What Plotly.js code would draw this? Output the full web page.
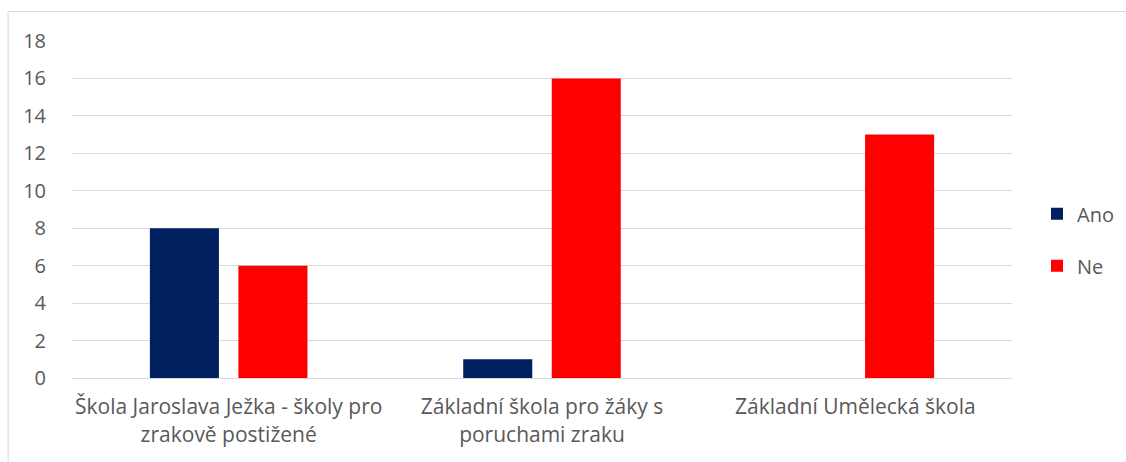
<!DOCTYPE html>
<html><head><meta charset="utf-8">
<script src="https://cdn.plot.ly/plotly-3.0.1.min.js"></script>
<style>body{margin:0;background:#fff}#c{width:1126px;height:462px}</style>
</head><body><div id="c"></div>
<script>
const categories = ["Škola Jaroslava Ježka - školy pro<br>zrakově postižené", "Základní škola pro žáky s<br>poruchami zraku", "Základní Umělecká škola"];
const ano = [8, 1, 0];
const ne = [6, 16, 13];
const yTicks = [0, 2, 4, 6, 8, 10, 12, 14, 16, 18];

const font = {family: "'Open Sans', 'Liberation Sans', sans-serif", size: 21, color: "#595959"};
const yfont = {family: "'Open Sans', 'Liberation Sans', sans-serif", size: 20, color: "#595959"};
const data = [
  {type: "bar", name: "Ano", x: categories, y: ano, marker: {color: "#002060"}, legendgroup: "a"},
  {type: "bar", name: "Ne", x: categories, y: ne, marker: {color: "#FF0000"}, legendgroup: "b"}
];
const layout = {
  width: 1126, height: 462,
  margin: {l: 72, r: 114, t: 41, b: 84},
  paper_bgcolor: "#fff", plot_bgcolor: "#fff",
  font: font,
  barmode: "group", bargap: 0.435, bargroupgap: 0.22,
  showlegend: true,
  legend: {xref: "container", x: 1037 / 1126, xanchor: "left", y: 0.41, yanchor: "middle", font: yfont, traceorder: "grouped", tracegroupgap: 23, itemwidth: 30},
  xaxis: {type: "category", showgrid: false, zeroline: false, showline: false, ticks: "outside", ticklen: 10, tickcolor: "rgba(0,0,0,0)", tickfont: font, fixedrange: true, automargin: false},
  yaxis: {range: [0, 18], tickvals: yTicks, showgrid: true, gridcolor: "#d9d9d9", gridwidth: 1, zeroline: true, zerolinecolor: "#d9d9d9", zerolinewidth: 1, showline: false, ticks: "outside", ticklen: 21, tickcolor: "rgba(0,0,0,0)", tickfont: yfont, automargin: false},
  shapes: [
    {type: "line", xref: "paper", yref: "paper", x0: -0.068, x1: -0.068, y0: -0.3, y1: 1.0875, line: {color: "#d9d9d9", width: 1}},
    {type: "line", xref: "paper", yref: "paper", x0: -0.068, x1: 1.15, y0: 1.0875, y1: 1.0875, line: {color: "#d9d9d9", width: 1}}
  ]
};
Plotly.newPlot("c", data, layout, {displayModeBar: false, staticPlot: true});
</script></body></html>
